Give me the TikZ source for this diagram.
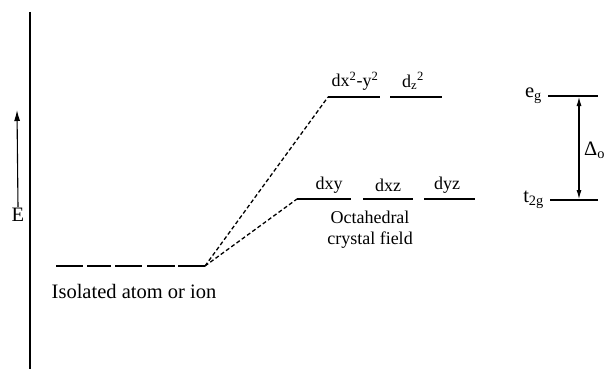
\documentclass[tikz,border=0pt]{standalone}
\usepackage{fontspec}
\setmainfont{Liberation Serif}
\usetikzlibrary{arrows.meta, positioning}

\begin{document}
\begin{tikzpicture}[
    x=1pt, y=-1pt,
    node distance=4pt and 4pt,
    every node/.style={font=\fontsize{18}{21}\selectfont, inner sep=1pt},
    big/.style={font=\fontsize{20.5}{23}\selectfont},
    level/.style={line width=1.7pt},
    link/.style={dash pattern=on 4pt off 2.5pt, line width=1.3pt},
    axis/.style={line width=1.9pt},
    arrow/.style={-{Latex[length=11pt,width=6pt]}, line width=1.1pt},
    gap/.style={{Latex[length=10pt,width=5pt]}-{Latex[length=10pt,width=5pt]}, line width=1.6pt}
]
\useasboundingbox (0,0) rectangle (616,369);

% Energy axis
\coordinate (axtop) at (30,12);
\coordinate (axbot) at (30,369);
\draw[axis] (axtop) -- (axbot);
\node[big] (elabel) at (18,215) {E};
\coordinate (etip) at (17,110);
\draw[arrow] (elabel.north) -- (etip);

% Isolated atom or ion
\foreach \a/\b in {56/83, 87/111, 115/142, 147/175, 178/205}
  \draw[level] (\a,266) -- (\b,266);
\coordinate (isoend) at (205,266);
\node[big] (isolated) at (134,291) {Isolated atom or ion};

% e_g set
\coordinate (dxya) at (328,97);
\draw[level] (dxya) -- (380,97);
\draw[level] (390,97) -- (442,97);
\node (dxy2) at (355,81) {dx\textsuperscript{2}-y\textsuperscript{2}};
\node (dz2) at (413,81) {d\textsubscript{z}\textsuperscript{2}};

% t_2g set
\coordinate (dxyb) at (297,199);
\draw[level] (dxyb) -- (351,199);
\draw[level] (363,199) -- (413,199);
\draw[level] (424,199) -- (475,199);
\node (dxy) at (329,185) {dxy};
\node (dxz) at (388,185) {dxz};
\node (dyz) at (447,185) {dyz};
\coordinate (t2mid) at (370,199);
\node[below=11pt of t2mid, align=center] (octa) {Octahedral\\crystal field};

% Splitting
\coordinate (egl) at (548,96);
\coordinate (egr) at (598,96);
\coordinate (tgl) at (550,200);
\coordinate (tgr) at (598,200);
\draw[level] (egl) -- (egr);
\draw[level] (tgl) -- (tgr);
\node[big, left=5pt of egl] (eg) {e\textsubscript{g}};
\node[big, left=5pt of tgl] (t2g) {t\textsubscript{2g}};
\coordinate (gaptop) at (579,96);
\coordinate (gapbot) at (579,200);
\draw[gap] (gaptop) -- (gapbot);
\node[big, right=1pt] (delta) at (582,150) {Δ\textsubscript{o}};

% Dashed links
\draw[link] (isoend) -- (dxya);
\draw[link] (isoend) -- (dxyb);

\end{tikzpicture}
\end{document}
